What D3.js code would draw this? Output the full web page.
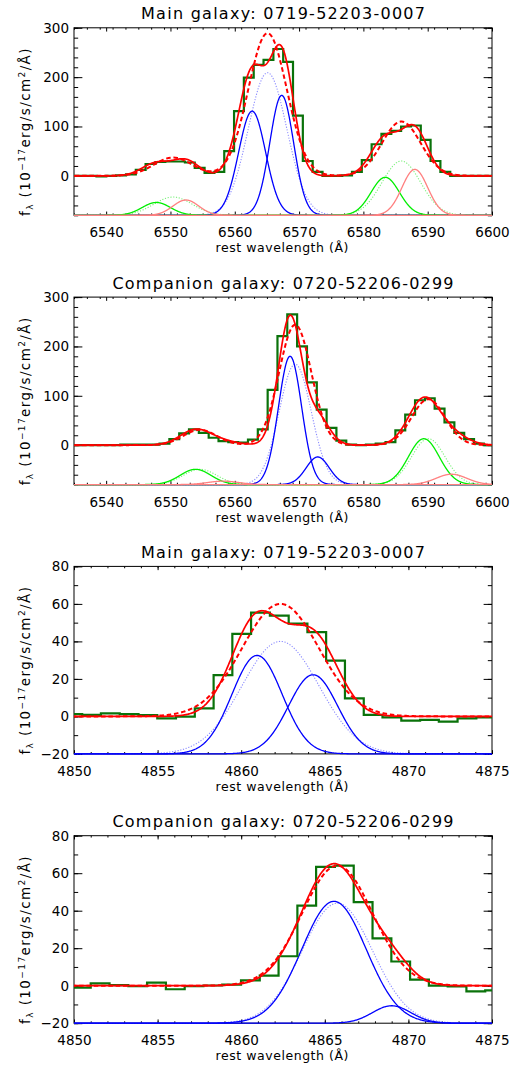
<!DOCTYPE html>
<html><head><meta charset="utf-8">
<script src="https://cdn.jsdelivr.net/npm/d3@7"></script>
<style>
body{margin:0;background:#fff}
svg{display:block}
text{font-family:"DejaVu Sans",sans-serif;fill:#000}
</style>
</head><body>
<svg id="c" width="527" height="1070"></svg>
<script>
// ---------- DATA ----------
const titles = ["Main galaxy: 0719-52203-0007","Companion galaxy: 0720-52206-0299",
                "Main galaxy: 0719-52203-0007","Companion galaxy: 0720-52206-0299"];
const xLabel = "rest wavelength (Å)";
const haXDomain = [6535, 6600], hbXDomain = [4850, 4875];
const haYDomain = [-80, 300],  hbYDomain = [-20, 80];
const haXTicks = [6540, 6550, 6560, 6570, 6580, 6590, 6600];
const hbXTicks = [4850, 4855, 4860, 4865, 4870, 4875];
const haYTicks = [0, 100, 200, 300];
const hbYTicks = [-20, 0, 20, 40, 60, 80];

// observed spectra (pixel centre wavelength, flux)
const p1Wave = [6534.68,6536.21,6537.73,6539.26,6540.79,6542.32,6543.85,6545.37,6546.90,6548.43,6549.96,6551.49,6553.01,6554.54,6556.07,6557.60,6559.13,6560.65,6562.18,6563.71,6565.24,6566.77,6568.29,6569.82,6571.35,6572.88,6574.41,6575.93,6577.46,6578.99,6580.52,6582.05,6583.57,6585.10,6586.63,6588.16,6589.69,6591.21,6592.74,6594.27,6595.80,6597.33,6598.85,6600.38];
const p1Flux = [0,0,0,-1,0,1,3,12,24,28,29,29,27,16,6,8,50,131,199,225,235,257,231,122,30,8,0,0,1,8,32,64,85,91,100,102,73,30,8,0,0,0,0,0];
const p2Wave = [6533.79,6535.32,6536.84,6538.37,6539.90,6541.43,6542.96,6544.48,6546.01,6547.54,6549.07,6550.60,6552.12,6553.65,6555.18,6556.71,6558.24,6559.76,6561.29,6562.82,6564.35,6565.88,6567.40,6568.93,6570.46,6571.99,6573.52,6575.04,6576.57,6578.10,6579.63,6581.16,6582.68,6584.21,6585.74,6587.27,6588.80,6590.32,6591.85,6593.38,6594.91,6596.44,6597.96,6599.49,6601.02];
const p2Flux = [0,0,0,0,0,0,1,1,1,1,3,12,24,32,25,15,8,6,5,11,32,112,221,265,200,127,72,35,9,1,0,1,3,6,30,62,91,95,74,46,25,12,3,0,0];
const p3Wave = [4849.93,4851.05,4852.17,4853.30,4854.42,4855.54,4856.66,4857.79,4858.91,4860.03,4861.15,4862.28,4863.40,4864.52,4865.64,4866.77,4867.89,4869.01,4870.14,4871.26,4872.38,4873.50,4874.63,4875.75];
const p3Flux = [1.2,0.8,1.6,1.2,0.7,-1.0,-0.1,4.3,22,44,55.3,53.8,49.5,45,29.8,9.6,0.8,-0.5,-2.2,-1.8,-2.8,-1.1,-0.5,-0.5];
const p4Wave = [4849.32,4850.44,4851.56,4852.69,4853.81,4854.93,4856.06,4857.18,4858.30,4859.43,4860.55,4861.67,4862.80,4863.92,4865.04,4866.17,4867.29,4868.42,4869.54,4870.66,4871.79,4872.91,4874.03,4875.16];
const p4Flux = [-1.0,-1.0,1.2,0.3,-0.3,1.6,-1.9,-0.3,0.1,0.6,2.8,5.4,15.7,42.7,63.4,64.0,44.6,25.2,12.9,3.2,0,-0.4,-3.0,-2.5];

// two-component fits (gaussian: centre, amplitude, sigma); kin = kinematic component
const p1SolidLine   = ["Hα","Hα","[N II]6583","[N II]6583","[N II]6548","[N II]6548"];
const p1SolidKin    = [1,2,1,2,1,2];
const p1SolidCenter = [6562.7,6567.3,6583.4,6588.0,6547.8,6552.4];
const p1SolidAmp    = [211,243,77,93,26,31];
const p1SolidSigma  = [2.1,1.85,2.2,2.0,2.2,2.0];
const p1DotLine   = ["Hα","[N II]6583","[N II]6548"];
const p1DotCenter = [6565.1,6585.9,6550.4];
const p1DotAmp    = [289,110,37];
const p1DotSigma  = [3.0,3.0,3.0];

const p2SolidLine   = ["Hα","Hα","[N II]6583","[N II]6583","[N II]6548","[N II]6548"];
const p2SolidKin    = [1,2,1,2,1,2];
const p2SolidCenter = [6568.6,6572.9,6589.4,6593.7,6553.9,6558.2];
const p2SolidAmp    = [260,56,93,21,31,7];
const p2SolidSigma  = [1.8,1.8,2.4,2.4,2.4,2.4];
const p2DotLine   = ["Hα","[N II]6583","[N II]6548"];
const p2DotCenter = [6569.4,6590.1,6554.6];
const p2DotAmp    = [244,93,31];
const p2DotSigma  = [2.5,2.6,2.6];

const p3SolidLine   = ["Hβ","Hβ"];
const p3SolidKin    = [1,2];
const p3SolidCenter = [4860.95,4864.3];
const p3SolidAmp    = [52.5,42.2];
const p3SolidSigma  = [1.5,1.47];
const p3DotLine   = ["Hβ"];
const p3DotCenter = [4862.35];
const p3DotAmp    = [60];
const p3DotSigma  = [2.3];

const p4SolidLine   = ["Hβ","Hβ"];
const p4SolidKin    = [1,2];
const p4SolidCenter = [4865.55,4869.0];
const p4SolidAmp    = [65,9.3];
const p4SolidSigma  = [1.93,1.15];
const p4DotLine   = ["Hβ"];
const p4DotCenter = [4865.75];
const p4DotAmp    = [64];
const p4DotSigma  = [2.1];

// ---------- BUILD ----------
function comps(line, kin, c, a, s){ return c.map((v,i)=>({line:line[i], kin:kin?kin[i]:0, c:v, a:a[i], s:s[i]})); }
const panels = [
 {title:titles[0], xd:haXDomain, yd:haYDomain, xt:haXTicks, yt:haYTicks, xm:2, ym:20, wave:p1Wave, flux:p1Flux,
  solid:comps(p1SolidLine,p1SolidKin,p1SolidCenter,p1SolidAmp,p1SolidSigma), dot:comps(p1DotLine,null,p1DotCenter,p1DotAmp,p1DotSigma)},
 {title:titles[1], xd:haXDomain, yd:haYDomain, xt:haXTicks, yt:haYTicks, xm:2, ym:20, wave:p2Wave, flux:p2Flux,
  solid:comps(p2SolidLine,p2SolidKin,p2SolidCenter,p2SolidAmp,p2SolidSigma), dot:comps(p2DotLine,null,p2DotCenter,p2DotAmp,p2DotSigma)},
 {title:titles[2], xd:hbXDomain, yd:hbYDomain, xt:hbXTicks, yt:hbYTicks, xm:1, ym:10, wave:p3Wave, flux:p3Flux,
  solid:comps(p3SolidLine,p3SolidKin,p3SolidCenter,p3SolidAmp,p3SolidSigma), dot:comps(p3DotLine,null,p3DotCenter,p3DotAmp,p3DotSigma)},
 {title:titles[3], xd:hbXDomain, yd:hbYDomain, xt:hbXTicks, yt:hbYTicks, xm:1, ym:10, wave:p4Wave, flux:p4Flux,
  solid:comps(p4SolidLine,p4SolidKin,p4SolidCenter,p4SolidAmp,p4SolidSigma), dot:comps(p4DotLine,null,p4DotCenter,p4DotAmp,p4DotSigma)}
];

const svg = d3.select("#c");
const L = 74, R = 492, PH = 187.5;
const tops = [27.8, 297.1, 566.4, 835.7];
const gauss = (x,g)=> g.a*Math.exp(-(x-g.c)*(x-g.c)/(2*g.s*g.s));
const isBalmer = l => l==="Hα"||l==="Hβ";
function solidColor(g){ return isBalmer(g.line) ? "#0000ff" : (g.kin===1 ? "#00ee00" : "#ff8080"); }
function dotColor(g){ return isBalmer(g.line) ? "#8c8cff" : "#7cf07c"; }

panels.forEach((p,i)=>{
  const top = tops[i], bot = top+PH;
  const x = d3.scaleLinear().domain(p.xd).range([L,R]);
  const y = d3.scaleLinear().domain(p.yd).range([bot,top]);
  const g = svg.append("g");

  // frame
  g.append("rect").attr("x",L).attr("y",top).attr("width",R-L).attr("height",PH)
    .attr("fill","none").attr("stroke","#000").attr("stroke-width",1);

  const minorX = d3.range(p.xd[0], p.xd[1]+1e-6, p.xm);
  const minorY = d3.range(p.yd[0], p.yd[1]+1e-6, p.ym);
  const xTL = 0.02*PH, yTL = 0.02*(R-L);
  const fmt = d3.format("d");
  function ax(gen, tr, vals, len, lab, pad){
    const a = gen.tickValues(vals).tickSize(-len).tickPadding(pad||0);
    if(!lab) a.tickFormat("");
    else a.tickFormat(fmt);
    const s = g.append("g").attr("transform",tr).call(a);
    s.select(".domain").remove();
    s.selectAll("line").attr("stroke","#000").attr("stroke-width",1);
    s.selectAll("text").attr("font-size",13.5).attr("fill","#000").attr("font-family","DejaVu Sans");
    return s;
  }
  ax(d3.axisBottom(x), `translate(0,${bot})`, minorX, xTL/2);
  ax(d3.axisTop(x),    `translate(0,${top})`, minorX, xTL/2);
  ax(d3.axisLeft(y),   `translate(${L},0)`,   minorY, yTL/2);
  ax(d3.axisRight(y),  `translate(${R},0)`,   minorY, yTL/2);
  ax(d3.axisBottom(x), `translate(0,${bot})`, p.xt, xTL, true, 12.4);
  ax(d3.axisTop(x),    `translate(0,${top})`, p.xt, xTL);
  ax(d3.axisLeft(y),   `translate(${L},0)`,   p.yt, yTL, true, 5);
  ax(d3.axisRight(y),  `translate(${R},0)`,   p.yt, yTL);

  // title
  g.append("text").attr("x",(L+R)/2).attr("y",top-8.5).attr("text-anchor","middle")
    .attr("font-size",16).attr("textLength", i%2===0 ? 284 : 341).attr("lengthAdjust","spacing").text(p.title);
  // x label
  g.append("text").attr("x",(L+R)/2-1).attr("y",bot+37).attr("text-anchor","middle")
    .attr("font-size",12.5).attr("textLength",133).attr("lengthAdjust","spacing").text(xLabel);
  // y label
  const yl = g.append("text").attr("transform",`translate(30,${(top+bot)/2+10}) rotate(-90)`)
    .attr("text-anchor","middle").attr("font-size",13.5).attr("letter-spacing",1.4);
  yl.append("tspan").text("f");
  yl.append("tspan").attr("font-size",9).attr("dy",3).text("λ");
  yl.append("tspan").attr("dy",-3).text(" (10");
  yl.append("tspan").attr("font-size",9).attr("dy",-5).text("−17");
  yl.append("tspan").attr("dy",5).text("erg/s/cm");
  yl.append("tspan").attr("font-size",9).attr("dy",-5).text("2");
  yl.append("tspan").attr("dy",5).text("/Å)");

  // clip
  const cid = "clip"+i;
  svg.append("clipPath").attr("id",cid).append("rect")
    .attr("x",L).attr("y",top).attr("width",R-L).attr("height",PH+1.5);
  const cg = g.append("g").attr("clip-path",`url(#${cid})`);

  const xs = d3.range(p.xd[0]-1, p.xd[1]+1, 0.04);
  const line = d3.line().x(d=>x(d[0])).y(d=>y(d[1]));
  const base = p.yd[0];

  // dotted single-component fits
  p.dot.forEach(c=>{
    cg.append("path").attr("d", line(xs.map(v=>[v, base+gauss(v,c)])))
      .attr("fill","none").attr("stroke",dotColor(c)).attr("stroke-width",1.1).attr("stroke-dasharray","1.2,1.6");
  });
  // solid components: balmer, then kin1 NII, then kin2 NII
  const order = p.solid.slice().sort((a,b)=> (isBalmer(a.line)?0:a.kin) - (isBalmer(b.line)?0:b.kin));
  order.forEach(c=>{
    cg.append("path").attr("d", line(xs.map(v=>[v, base+gauss(v,c)])))
      .attr("fill","none").attr("stroke",solidColor(c)).attr("stroke-width",1.3);
  });

  // histogram
  const hist = d3.line().x(d=>x(d[0])).y(d=>y(d[1])).curve(d3.curveStep);
  cg.append("path").attr("d", hist(p.wave.map((w,k)=>[w,p.flux[k]])))
    .attr("fill","none").attr("stroke","#0a720a").attr("stroke-width",2.2);

  // total fits
  const sumSolid = xs.map(v=>[v, d3.sum(p.solid, c=>gauss(v,c))]);
  const sumDot   = xs.map(v=>[v, d3.sum(p.dot,   c=>gauss(v,c))]);
  cg.append("path").attr("d", line(sumSolid)).attr("fill","none").attr("stroke","#ff0000").attr("stroke-width",1.7);
  cg.append("path").attr("d", line(sumDot)).attr("fill","none").attr("stroke","#ff0000").attr("stroke-width",2)
    .attr("stroke-dasharray","4.5,2.8");
});
</script>
</body></html>
